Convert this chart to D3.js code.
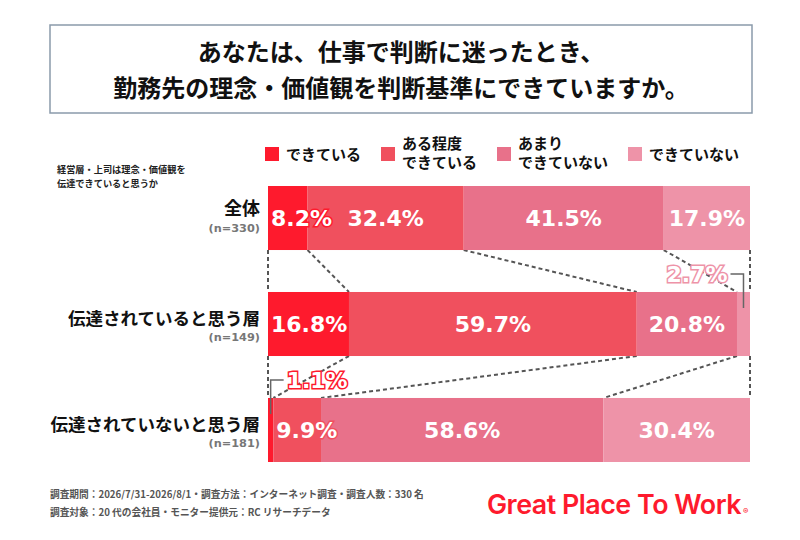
<!DOCTYPE html>
<html><head><meta charset="utf-8">
<script src="https://cdn.jsdelivr.net/npm/d3@7"></script>
<style>
html,body{margin:0;padding:0;background:#fff;}
svg{display:block;}
</style>
</head><body>
<svg id="c" width="800" height="540"></svg>
<script>
const titleLines = ["あなたは、仕事で判断に迷ったとき、", "勤務先の理念・価値観を判断基準にできていますか。"];
const noteLines = ["経営層・上司は理念・価値観を", "伝達できていると思うか"];
const categories = ["全体", "伝達されていると思う層", "伝達されていないと思う層"];
const nLabels = ["(n=330)", "(n=149)", "(n=181)"];
const seriesNames = [["できている"], ["ある程度", "できている"], ["あまり", "できていない"], ["できていない"]];
const seriesColors = ["#fe1a2d", "#f0505e", "#e8718a", "#ee93a8"];
const valDekiteiru = [8.2, 16.8, 1.1];
const valAruteido = [32.4, 59.7, 9.9];
const valAmari = [41.5, 20.8, 58.6];
const valDekinai = [17.9, 2.7, 30.4];
const footerLines = ["調査期間：2026/7/31-2026/8/1・調査方法：インターネット調査・調査人数：330 名",
                     "調査対象：20 代の会社員・モニター提供元：RC リサーチデータ"];

const series = [valDekiteiru, valAruteido, valAmari, valDekinai];
const JP = "'Noto Sans CJK JP','Noto Sans',sans-serif";
const svg = d3.select("#c");

// title box
svg.append("rect").attr("x", 50).attr("y", 25).attr("width", 702).attr("height", 88)
  .attr("fill", "#fff").attr("stroke", "#8a9aab").attr("stroke-width", 1.5);
svg.selectAll("text.title").data(titleLines).join("text")
  .attr("x", 401).attr("y", (d, i) => 61 + i * 36)
  .attr("text-anchor", "middle").attr("font-family", JP).attr("font-weight", 700)
  .attr("font-size", 24).attr("fill", "#111").text(d => d);

// scales
const x = d3.scaleLinear().domain([0, 100]).range([268, 750]);
const y = d3.scaleBand().domain(categories).range([186, 462]).paddingInner(0.396).paddingOuter(0);
const bw = y.bandwidth();

// stacked data
const rows = categories.map((c, i) => {
  let acc = 0;
  return series.map((s, k) => { const v = s[i]; const r = {cat: c, k, v, x0: acc, x1: acc + v}; acc += v; return r; });
});

// connectors
const cg = svg.append("g").attr("stroke", "#555").attr("stroke-width", 2).attr("stroke-dasharray", "4,3").attr("fill", "none");
for (let i = 0; i < categories.length - 1; i++) {
  const a = rows[i], b = rows[i + 1];
  const ya = y(categories[i]) + bw, yb = y(categories[i + 1]);
  const bounds = [[0, 0]].concat(a.slice(0, 3).map((d, k) => [d.x1, b[k].x1])).concat([[100, 100]]);
  bounds.forEach(([p, q]) => {
    cg.append("line").attr("x1", x(p)).attr("y1", ya).attr("x2", x(q)).attr("y2", yb);
  });
}

// bars
const bg = svg.append("g");
rows.forEach(r => {
  bg.selectAll(null).data(r).join("rect")
    .attr("x", d => x(d.x0)).attr("y", d => y(d.cat))
    .attr("width", d => x(d.x1) - x(d.x0)).attr("height", bw)
    .attr("fill", d => seriesColors[d.k]);
});

// labels
const lg = svg.append("g");
const pctFont = "'DejaVu Sans',Verdana,sans-serif";
rows.forEach((r, ri) => {
  r.forEach(d => {
    const cx = (x(d.x0) + x(d.x1)) / 2;
    const cy = y(d.cat) + bw / 2;
    const label = d.v.toFixed(1) + "%";
    if (d.v >= 5) {
      const t = lg.append("text").attr("y", cy + 8).attr("text-anchor", "middle")
        .attr("font-family", pctFont).attr("font-weight", 700).attr("font-size", 22)
        .attr("fill", "#fff").attr("stroke", seriesColors[d.k]).attr("stroke-width", 3)
        .attr("paint-order", "stroke").text(label);
      const w = t.node().getComputedTextLength();
      t.attr("x", Math.max(cx, x(d.x0) + w / 2 + 3));
    } else {
      const top = y(d.cat);
      const leftSide = d.x0 > 50;
      const ly = top - 18;
      const hx = leftSide ? cx - 13 : cx + 13;
      lg.append("polyline").attr("fill", "none").attr("stroke", "#666").attr("stroke-width", 1.5)
        .attr("points", [[cx, top + 16], [cx, ly], [hx, ly]].map(p => p.join(",")).join(" "));
      lg.append("text").attr("x", leftSide ? hx - 3 : hx + 3).attr("y", ly + 8)
        .attr("text-anchor", leftSide ? "end" : "start")
        .attr("font-family", pctFont).attr("font-weight", 700).attr("font-size", 22)
        .attr("fill", "#fff").attr("stroke", seriesColors[d.k]).attr("stroke-width", 3)
        .attr("paint-order", "stroke").text(label);
    }
  });
});

// category labels
categories.forEach((c, i) => {
  const cy = y(c) + bw / 2;
  svg.append("text").attr("x", 260).attr("y", cy + (i === 0 ? -3 : 1)).attr("text-anchor", "end")
    .attr("font-family", JP).attr("font-weight", 700).attr("font-size", i === 0 ? 18 : 17.5)
    .attr("fill", "#111").text(c);
  svg.append("text").attr("x", 260).attr("y", cy + (i === 0 ? 14 : 17)).attr("text-anchor", "end")
    .attr("font-family", pctFont).attr("font-weight", 700).attr("font-size", 11.3)
    .attr("fill", "#777").text(nLabels[i]);
});

// note
svg.selectAll("text.note").data(noteLines).join("text")
  .attr("x", 57).attr("y", (d, i) => 173 + i * 13.5)
  .attr("font-family", JP).attr("font-weight", 700).attr("font-size", 9.2)
  .attr("fill", "#222").text(d => d);

// legend
const legX = [265, 381, 497, 628];
seriesNames.forEach((lines, k) => {
  svg.append("rect").attr("x", legX[k]).attr("y", 147).attr("width", 14).attr("height", 14)
    .attr("fill", seriesColors[k]);
  lines.forEach((t, j) => {
    const yy = lines.length === 1 ? 160 : 149 + j * 19;
    svg.append("text").attr("x", legX[k] + 21).attr("y", yy)
      .attr("font-family", JP).attr("font-weight", 700).attr("font-size", 15)
      .attr("fill", "#111").text(t);
  });
});

// footer
svg.selectAll("text.foot").data(footerLines).join("text")
  .attr("x", 50).attr("y", (d, i) => 498 + i * 18)
  .attr("font-family", JP).attr("font-weight", 700).attr("font-size", 9.7)
  .attr("fill", "#555").text(d => d);

// logo
svg.append("text").attr("x", 487).attr("y", 514)
  .attr("font-family", "Inter,Lato,sans-serif").attr("font-weight", 600).attr("font-size", 27)
  .attr("fill", "#fe1a2d").attr("textLength", 254).attr("lengthAdjust", "spacingAndGlyphs")
  .attr("letter-spacing", -0.5).text("Great Place To Work");
svg.append("text").attr("x", 743).attr("y", 514)
  .attr("font-family", "Inter,sans-serif").attr("font-weight", 600).attr("font-size", 8)
  .attr("fill", "#fe1a2d").text("®");
</script>
</body></html>
